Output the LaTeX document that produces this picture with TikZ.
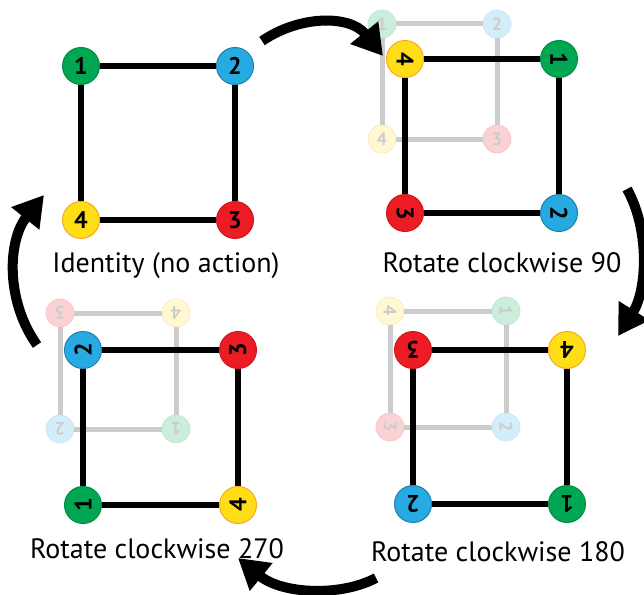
\documentclass[tikz,border=0pt]{standalone}
\usepackage{fontspec}
\setmainfont{PT Sans}
\usetikzlibrary{arrows.meta}

\definecolor{cgreen}{HTML}{00A651}
\definecolor{cblue}{HTML}{27AAE1}
\definecolor{cred}{HTML}{ED1C24}
\definecolor{cyellow}{HTML}{FFDE17}
\definecolor{cyellowline}{HTML}{F7A823}

\tikzset{
  vtx/.style={circle, minimum size=37pt, inner sep=0pt, line width=1pt,
    font=\fontsize{24}{24}\selectfont\bfseries, text=black},
  gvtx/.style={circle, minimum size=28pt, inner sep=0pt, line width=0.8pt,
    font=\fontsize{18}{18}\selectfont\bfseries, text=black!20},
  vc1/.style={vtx, fill=cgreen, draw=cgreen!85!black},
  vc2/.style={vtx, fill=cblue, draw=cblue!75!black},
  vc3/.style={vtx, fill=cred, draw=cred!85!black},
  vc4/.style={vtx, fill=cyellow, draw=cyellowline},
  gc1/.style={gvtx, fill=cgreen!20, draw=cgreen!25},
  gc2/.style={gvtx, fill=cblue!20, draw=cblue!25},
  gc3/.style={gvtx, fill=cred!20, draw=cred!25},
  gc4/.style={gvtx, fill=cyellow!20, draw=cyellowline!25},
  vedge/.style={line width=6.3pt, draw=black},
  gedge/.style={line width=5pt, draw=black!20},
  bigarrow/.style={line width=10pt, -{Triangle[length=30pt,width=34pt]}},
  caption/.style={font=\fontsize{28}{32}\selectfont, anchor=base, inner sep=0pt}
}

% #1 name prefix, #2 kind (v = solid, g = faded), #3 side, #4 #5 top-left corner,
% #6 label rotation, #7 label of the top-left vertex (the others follow clockwise)
\newcommand\labsquare[7]{%
  \pgfmathtruncatemacro\sqa{#7}%
  \pgfmathtruncatemacro\sqb{mod(#7,4)+1}%
  \pgfmathtruncatemacro\sqc{mod(#7+1,4)+1}%
  \pgfmathtruncatemacro\sqd{mod(#7+2,4)+1}%
  \node[#2c\sqa, rotate=#6] (#1tl) at (#4,#5) {\sqa};
  \node[#2c\sqb, rotate=#6] (#1tr) at (#4+#3,#5) {\sqb};
  \node[#2c\sqc, rotate=#6] (#1br) at (#4+#3,#5+#3) {\sqc};
  \node[#2c\sqd, rotate=#6] (#1bl) at (#4,#5+#3) {\sqd};
  \draw[#2edge] (#1tl) -- (#1tr);
  \draw[#2edge] (#1tr) -- (#1br);
  \draw[#2edge] (#1br) -- (#1bl);
  \draw[#2edge] (#1bl) -- (#1tl);
}

\begin{document}
\begin{tikzpicture}[x=1pt, y=-1pt]
  \useasboundingbox (0,0) rectangle (644,594);

  % faded previous states
  \labsquare{ga}{g}{115}{382}{24}{0}{1}
  \labsquare{gb}{g}{116}{390}{311}{-90}{4}
  \labsquare{gc}{g}{116}{60}{313}{180}{3}

  % current states
  \labsquare{sa}{v}{154}{81}{66}{0}{1}
  \labsquare{sb}{v}{154}{405}{59}{-90}{4}
  \labsquare{sc}{v}{154}{413}{350}{180}{3}
  \labsquare{sd}{v}{155}{83}{350}{90}{2}

  % captions
  \node[caption] (ta) at (166,272) {Identity (no action)};
  \node[caption] (tb) at (502,272) {Rotate clockwise 90};
  \node[caption] (tc) at (498,561) {Rotate clockwise 180};
  \node[caption] (td) at (157,558) {Rotate clockwise 270};

  % cycle arrows
  \coordinate (a1s) at (262,41);
  \coordinate (a1e) at (383,56);
  \coordinate (a2s) at (627,189);
  \coordinate (a2e) at (618,336);
  \coordinate (a3s) at (376,578);
  \coordinate (a3e) at (238,558);
  \coordinate (a4s) at (37,345);
  \coordinate (a4e) at (44,195);
  \draw[bigarrow] (a1s) .. controls (300,15) and (350,15) .. (a1e);
  \draw[bigarrow] (a2s) .. controls (650,230) and (647,290) .. (a2e);
  \draw[bigarrow] (a3s) .. controls (340,597) and (282,594) .. (a3e);
  \draw[bigarrow] (a4s) .. controls (5,300) and (8,240) .. (a4e);
\end{tikzpicture}
\end{document}
